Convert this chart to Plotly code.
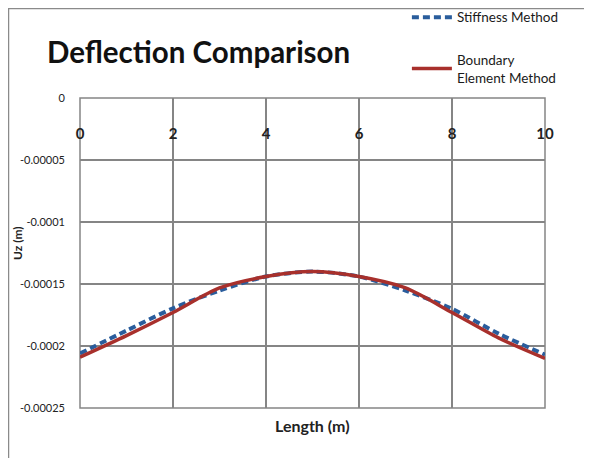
import plotly.graph_objects as go

x_vals = [0, 1, 2, 3, 4, 5, 6, 7, 8, 9, 10]
stiffness = [-0.000206, -0.0001876, -0.0001696, -0.0001553, -0.0001440, -0.0001400,
             -0.0001440, -0.0001553, -0.0001700, -0.0001900, -0.000207]
bem = [-0.000209, -0.0001916, -0.0001730, -0.0001532, -0.0001440, -0.0001400,
       -0.0001440, -0.0001532, -0.0001730, -0.0001935, -0.000210]

y_ticks = [0, -0.00005, -0.0001, -0.00015, -0.0002, -0.00025]
y_tick_text = ["0", "-0.00005", "-0.0001", "-0.00015", "-0.0002", "-0.00025"]
x_ticks = [0, 2, 4, 6, 8, 10]

FONT = "Lato"
GRID = "#858585"
W, H = 584, 450

fig = go.Figure()
fig.add_trace(go.Scatter(
    x=x_vals, y=stiffness, mode="lines", name="Stiffness Method",
    line=dict(color="#2a5d9c", width=4, dash="7px,4px", shape="spline", smoothing=0.8),
    legendgroup="a"))
fig.add_trace(go.Scatter(
    x=x_vals, y=bem, mode="lines", name="Boundary<br>Element Method",
    line=dict(color="#a8302c", width=3.5, shape="spline", smoothing=0.8),
    legendgroup="b"))

fig.update_layout(
    width=W, height=H,
    margin=dict(l=72, r=47, t=90, b=50, autoexpand=False),
    paper_bgcolor="white", plot_bgcolor="white",
    font=dict(family=FONT, color="#1a1a1a"),
    showlegend=True,
    legend=dict(x=0.703, y=1.31, xanchor="left", yanchor="top",
                font=dict(size=13.5, family=FONT, color="#1a1a1a"),
                traceorder="grouped", tracegroupgap=22,
                bgcolor="rgba(0,0,0,0)", itemwidth=40),
    title=dict(text="<b>Deflection Comparison</b>", x=39/W, xanchor="left",
               y=1 - 45/H, yanchor="middle",
               font=dict(size=29.5, family=FONT, color="#111111")),
    xaxis=dict(range=[0, 10], tickvals=x_ticks, side="bottom",
               anchor="free", position=1 - 25/310,
               ticks="", showgrid=True, gridcolor=GRID, gridwidth=1.5,
               showline=False, zeroline=False,
               tickfont=dict(size=15, family=FONT, color="#222222", weight="bold"),
               ),
    yaxis=dict(range=[-0.00025, 0], tickvals=y_ticks, ticktext=y_tick_text,
               ticks="", ticklabelstandoff=14,
               showgrid=True, gridcolor=GRID, gridwidth=1.5,
               showline=False, zeroline=False,
               tickfont=dict(size=11, family=FONT, color="#222222")),
    annotations=[
        dict(text="<b>Length (m)</b>", x=0.5, y=-0.02, xref="paper",
             yref="paper", yanchor="top", showarrow=False,
             font=dict(size=16, family=FONT, color="#222222")),
        dict(text="<b>Uz (m)</b>", x=(9 - 72) / 465, y=(400 - 235) / 310,
             xref="paper", yref="paper", xanchor="center", yanchor="middle",
             textangle=-90, showarrow=False,
             font=dict(size=12, family=FONT, color="#222222")),
    ],
    shapes=[
        dict(type="rect", xref="paper", yref="paper",
             x0=(0.5 - 72) / 465, x1=(600 - 72) / 465,
             y0=-(470 - 400) / 310, y1=1 + (90 - 0.5) / 310,
             line=dict(color="#8a8a8a", width=1.5), layer="below"),
        dict(type="rect", xref="paper", yref="paper", x0=0, x1=1, y0=0, y1=1,
             line=dict(color=GRID, width=1.5), layer="below"),
    ],
)

fig.write_html("out.html")
